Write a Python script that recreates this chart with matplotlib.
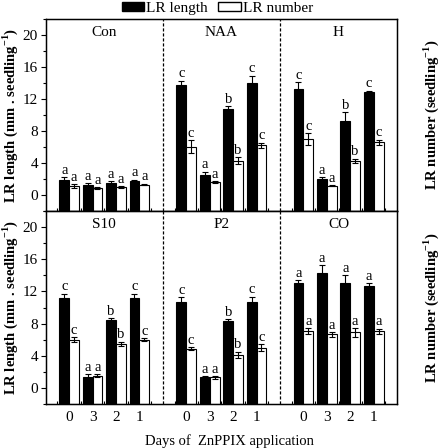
import matplotlib
matplotlib.use('Agg')
import matplotlib.pyplot as plt
import numpy as np
from matplotlib.patches import Patch
from matplotlib.ticker import MultipleLocator

plt.rcParams['font.family'] = 'serif'
plt.rcParams['font.serif'] = ['Liberation Serif', 'DejaVu Serif']
plt.rcParams['mathtext.fontset'] = 'custom'
plt.rcParams['mathtext.rm'] = 'Liberation Serif'
plt.rcParams['mathtext.bf'] = 'Liberation Serif:bold'

treatments = ['Con', 'NAA', 'H', 'S10', 'P2', 'CO']
days = ['0', '3', '2', '1']

lr_length = [[1.9, 1.25, 1.55, 1.75],
             [13.7, 2.5, 10.75, 13.95],
             [13.3, 2.05, 9.3, 12.9],
             [11.15, 1.3, 8.5, 11.15],
             [10.7, 1.3, 8.3, 10.7],
             [13.05, 14.3, 13.05, 12.7]]
lr_length_err = [[0.35, 0.2, 0.2, 0.15],
                 [0.6, 0.4, 0.35, 0.95],
                 [0.8, 0.15, 1.05, 0.15],
                 [0.55, 0.4, 0.2, 0.55],
                 [0.55, 0.15, 0.25, 0.65],
                 [0.35, 0.95, 0.95, 0.35]]
lr_number = [[1.1, 0.85, 1.0, 1.3],
             [6.05, 1.6, 4.3, 6.2],
             [7.0, 1.15, 4.3, 6.6],
             [6.0, 1.5, 5.5, 6.0],
             [4.9, 1.3, 4.1, 5.0],
             [7.05, 6.65, 6.9, 7.05]]
lr_number_err = [[0.25, 0.1, 0.1, 0.1],
                 [0.8, 0.1, 0.45, 0.35],
                 [0.75, 0.05, 0.25, 0.3],
                 [0.3, 0.2, 0.25, 0.15],
                 [0.15, 0.15, 0.4, 0.4],
                 [0.4, 0.3, 0.55, 0.3]]
letters = [['a', 'a', 'a', 'a'],
           ['c', 'a', 'b', 'c'],
           ['c', 'a', 'b', 'c'],
           ['c', 'a', 'b', 'c'],
           ['c', 'a', 'b', 'c'],
           ['a', 'a', 'a', 'a']]

ymin, ymax = -2, 22
w = 0.42

fig = plt.figure(figsize=(4.42, 4.48), dpi=100)
axes = [fig.add_axes([0.1034, 0.529, 0.795, 0.4286]),
        fig.add_axes([0.1034, 0.0982, 0.795, 0.4308])]

for row, ax in enumerate(axes):
    for g in range(3):
        t = row * 3 + g
        x = 5 * g + np.arange(1, 5)
        ln = np.array(lr_length[t])
        nm = np.array(lr_number[t])
        ax.bar(x - w / 2, ln - ymin, w, bottom=ymin, color='black',
               edgecolor='black', linewidth=0.8, zorder=2)
        ax.bar(x + w / 2, nm - ymin, w, bottom=ymin, color='white',
               edgecolor='black', linewidth=0.8, zorder=2)
        ax.errorbar(x - w / 2, ln, yerr=lr_length_err[t], fmt='none',
                    ecolor='black', elinewidth=0.8, capsize=2.5, capthick=0.8, zorder=3)
        ax.errorbar(x + w / 2, nm, yerr=lr_number_err[t], fmt='none',
                    ecolor='black', elinewidth=0.8, capsize=2.5, capthick=0.8, zorder=3)
        for i in range(4):
            ax.text(x[i] - w / 2, ln[i] + lr_length_err[t][i] + 0.05, letters[t][i],
                    ha='center', va='bottom', fontsize=10.5)
            ax.text(x[i] + w / 2, nm[i] + lr_number_err[t][i] + 0.05, letters[t][i],
                    ha='center', va='bottom', fontsize=10.5)
        ax.text(5 * g + 2.5, 20.3, treatments[t], ha='center', va='center', fontsize=11)
    for xd in (5, 10):
        ax.axvline(xd, color='black', linestyle=(0, (2.5, 1.5)), linewidth=0.9)

    ax.set_xlim(0, 15)
    ax.set_ylim(ymin, ymax)
    ax.set_yticks(np.arange(0, 21, 4))
    ax.yaxis.set_minor_locator(MultipleLocator(2))
    ax.tick_params(axis='y', which='both', direction='out', labelsize=11, pad=2,
                   left=True, right=True, labelleft=True, labelright=True)
    ax.tick_params(axis='y', which='major', length=3.5, width=0.8)
    ax.tick_params(axis='y', which='minor', length=2, width=0.8)
    ax.set_xticks(np.concatenate([5 * g + np.arange(1, 5) for g in range(3)]))
    ax.set_xticks(np.arange(0.5, 15, 1), minor=True)
    ax.tick_params(axis='x', which='major', length=0, labelsize=11, pad=5)
    ax.tick_params(axis='x', which='minor', direction='in', length=2.5, width=0.8)
    if row == 1:
        ax.set_xticklabels(days * 3)
    else:
        ax.set_xticklabels([])
    ax.set_ylabel(r'LR length (mm . seedling$^{\mathbf{-1}}$)', fontweight='bold',
                  fontsize=10.5)
    ax.yaxis.set_label_coords(-0.074, 0.5)
    for s in ax.spines.values():
        s.set_linewidth(1.0)
    ax2 = ax.twinx()
    ax2.set_ylim(ymin, ymax)
    ax2.set_yticks([])
    ax2.set_ylabel(r'LR number (seedling$^{\mathbf{-1}}$)', fontweight='bold',
                   fontsize=10.5)
    ax2.yaxis.set_label_coords(1.068, 0.5)

fig.text(229 / 442, 0.0156, 'Days of  ZnPPIX application', ha='center', va='center',
         fontsize=10.5)
handles = [Patch(facecolor='black', edgecolor='black', label='LR length'),
           Patch(facecolor='white', edgecolor='black', label='LR number')]
fig.legend(handles=handles, loc='center', bbox_to_anchor=(0.492, 0.982), ncol=2,
           frameon=False, fontsize=11, handlelength=1.45, handleheight=0.55,
           handletextpad=0.15, columnspacing=0.7, borderpad=0)

fig.savefig('out.png', dpi=100)
